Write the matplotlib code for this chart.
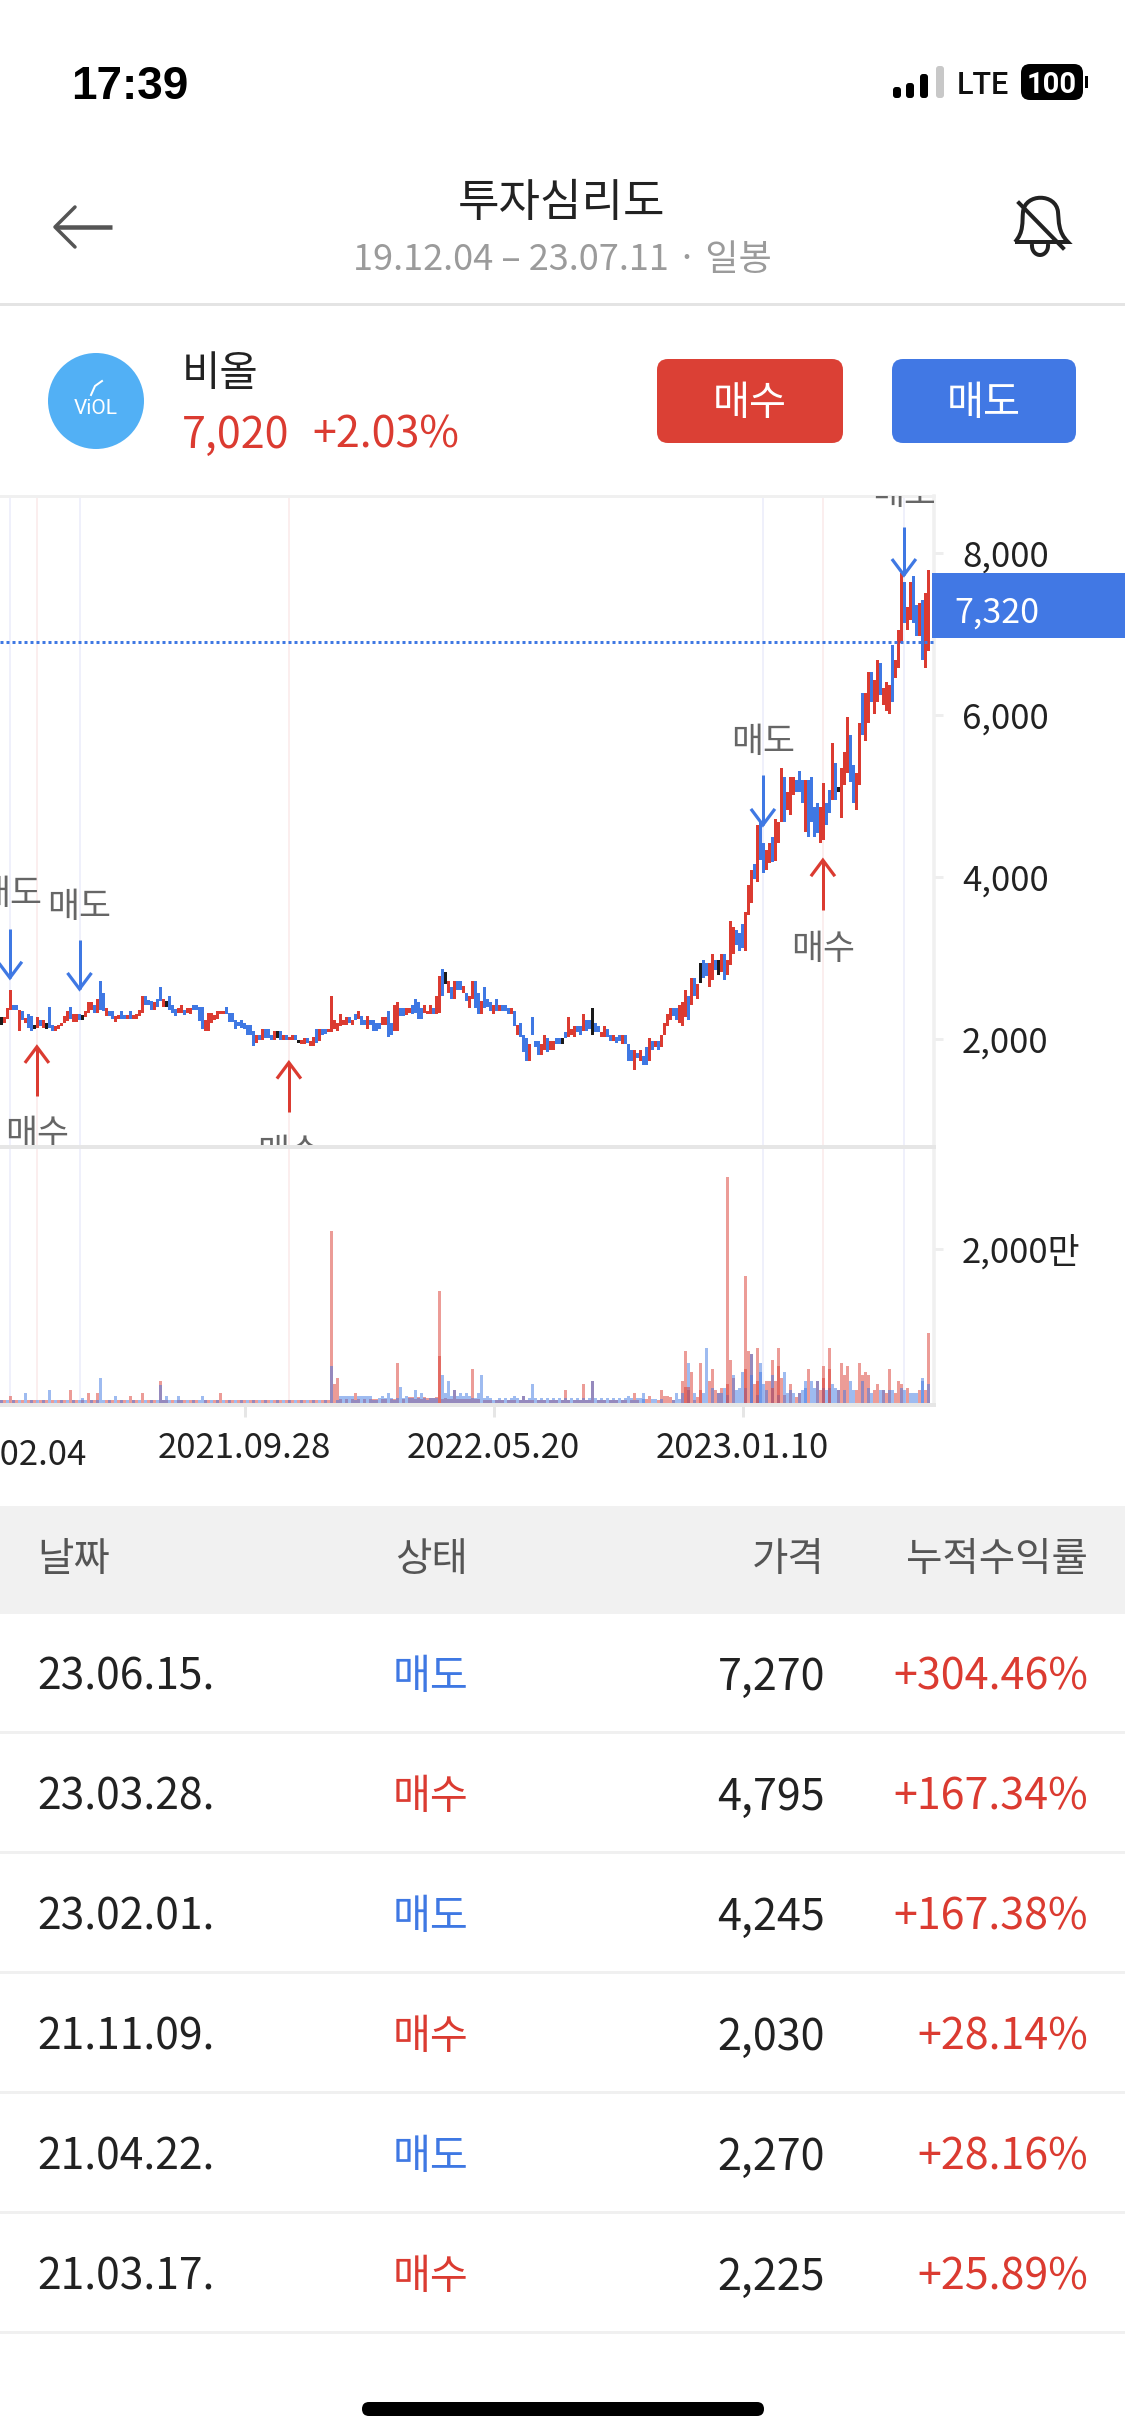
import numpy as np
import matplotlib
matplotlib.use("Agg")
import matplotlib.pyplot as plt
from matplotlib.patches import FancyBboxPatch, Circle, PathPatch, Rectangle
from matplotlib.path import Path

plt.rcParams['font.family'] = ['Noto Sans CJK KR', 'DejaVu Sans']

RED = '#DB3B31'; BLUE = '#3F78E3'; BLACK = '#1a1a1a'

high = [
2267,2267,2379,2605,2420,2420,2358,2337,2255,2309, 2276,2165,2267,2235,2235,2193,2387,2165,2152,2165,
2193,2276,2346,2387,2305,2305,2305,2296,2337,2453, 2453,2412,2494,2716,2564,2379,2346,2346,2276,2296,
2346,2296,2296,2346,2296,2309,2358,2531,2531,2481, 2461,2453,2494,2638,2490,2461,2531,2420,2366,2379,
2420,2358,2379,2379,2420,2420,2387,2387,2235,2317, 2317,2296,2346,2346,2346,2387,2317,2317,2235,2206,
2235,2193,2165,2165,2090,2049,2049,2123,2123,2123, 2049,2090,2090,2090,2049,2049,2021,2049,2049,1988,
1979,2008,2008,1975,2016,2123,2123,2123,2123,2123, 2531,2235,2193,2309,2235,2267,2267,2235,2309,2346,
2276,2235,2276,2235,2235,2193,2193,2267,2267,2346, 2193,2420,2453,2379,2379,2379,2379,2420,2494,2453,
2379,2420,2346,2420,2379,2531,2770,2864,2827,2716, 2638,2716,2716,2716,2646,2564,2531,2716,2716,2564,
2461,2638,2494,2453,2420,2494,2420,2420,2420,2379, 2379,2346,2165,2193,2049,2008,1938,2267,1975,1975,
1938,2049,2008,1975,1975,2008,2008,2008,2086,2267, 2123,2160,2160,2160,2309,2235,2235,2379,2193,2160,
2086,2160,2123,2049,2049,2016,2049,2049,2049,1938, 1864,1864,1823,1864,1790,1897,2008,1975,1975,1975,
2049,2193,2305,2379,2379,2379,2420,2453,2605,2531, 2749,2749,2679,2934,2973,2932,2932,3043,2973,2973,
3043,3043,2973,3454,3376,3343,3302,3418,3566,3899, 4084,4158,4640,4681,4413,4331,4413,4487,4710,4681,
5339,5237,5051,5237,5237,5195,5307,5195,5195,5195, 5237,4866,4907,4866,5154,4907,5072,5648,5401,5113,
5340,5545,5969,5751,5381,5278,5895,6265,6265,6532, 6532,6430,6676,6635,6327,6409,6368,6862,6676,7047,
7746,7644,7335,7644,7713,7355,7376,7417,7500,7788]
low = [
2165,2193,2243,2358,2350,2350,2090,2235,2193,2132, 2090,2123,2132,2152,2132,2123,2132,2090,2090,2119,
2152,2193,2214,2243,2206,2206,2235,2235,2267,2317, 2358,2317,2317,2358,2337,2276,2276,2243,2202,2243,
2243,2243,2243,2243,2243,2243,2276,2317,2420,2420, 2358,2358,2387,2461,2391,2391,2358,2317,2276,2317,
2317,2296,2317,2309,2358,2358,2214,2123,2090,2090, 2193,2235,2243,2309,2309,2309,2202,2202,2123,2160,
2132,2123,2049,2049,1905,1947,1979,1979,2008,2008, 1979,1979,2008,1988,1979,1979,1979,1979,1979,1947,
1938,1938,1947,1905,1905,1947,1975,2049,2062,2086, 2086,2123,2090,2160,2165,2165,2193,2165,2235,2243,
2165,2165,2123,2165,2090,2090,2123,2165,2165,2016, 2049,2090,2090,2276,2276,2296,2317,2309,2317,2243,
2243,2317,2309,2309,2309,2309,2317,2531,2679,2564, 2494,2494,2605,2605,2564,2461,2379,2494,2379,2309,
2309,2379,2387,2346,2309,2346,2346,2346,2346,2309, 2309,2160,2049,2016,1831,1720,1720,2049,1897,1794,
1794,1864,1831,1864,1864,1938,1938,1938,2008,2016, 2049,2016,2086,2049,2090,2090,2123,2049,2086,2086,
2016,2016,2016,1975,1975,1947,1975,1938,1938,1720, 1720,1617,1761,1720,1679,1679,1720,1864,1897,1864,
1897,2049,2160,2235,2276,2235,2193,2160,2267,2235, 2420,2531,2494,2687,2747,2775,2644,2726,2850,2788,
2829,2726,2788,2911,3043,3158,3084,3117,3084,3529, 3673,3969,3940,4208,4051,4084,4166,4187,4195,4413,
4681,4681,4825,4763,5010,5051,5051,4907,4558,4496, 4681,4496,4537,4414,4455,4640,4784,4949,4949,5051,
4722,5134,5278,5175,4907,4825,5134,5751,5677,5895, 6162,6010,6162,6244,6121,6051,6010,6162,6450,6574,
6882,7129,7047,7170,7129,6973,6973,6676,6574,6792]
direction = list(
"krrrbbrbrb" "bkrbrkbbrr" "rrrbrrbkrr" "rbrbbrbbrr" "bbrbrrrrbb" "brbbrkbbbr" "rbrrbbbbrr" "rrrrrbbbbb"
"bbbbbrbrbb" "brkbrbrrbk" "rrbrrbrbbr" "rrrrrrbrbr" "bbrbbbbrrb" "brrbbrrbbb" "brrrbrrbkr" "brbbrbrrbb"
"rbbbrbrbbb" "rbrbbbrbbb" "rrbrrbbkbr" "rrbbrbbkbb" "rrbbrbbrbb" "brbrbbrbrb" "rrrrbbrrrb" "rbrkbbrrbk"
"rbrrrbbbrr" "rbrbbrrbrr" "rbrrrbbbrb" "bbbrrbbrbk" "rrrbbrrbrr" "brrbrrrbrr" "rbrrbbrbrr")

vol_r = [
40,40,0,87,40,40,0,40,0,40, 40,40,0,40,40,40,0,40,0,40, 40,40,0,170,40,40,0,40,0,130, 40,40,130,0,0,40,40,40,0,40,
40,40,0,85,40,40,0,130,0,40, 40,40,0,280,40,40,0,40,0,40, 40,40,0,40,40,40,0,0,40,40, 0,40,40,130,0,40,40,40,0,40,
40,40,0,40,40,40,0,40,40,40, 0,40,40,40,0,40,40,40,0,40, 40,40,0,40,40,40,0,40,40,40,
2230,250,325,50,0,50,0,50,130,50, 0,50,0,50,50,50,0,50,50,0, 50,50,520,0,50,0,80,80,50,80,
50,80,70,60,60,80,1450,50,60,50, 50,173,50,50,50,50,50,446,50,50, 0,40,40,40,0,40,40,40,0,40,
40,40,0,40,87,40,40,40,0,40, 40,40,0,40,40,40,0,40,173,40, 0,40,40,40,247,40,40,281,0,40,
40,40,0,40,40,40,0,40,40,0, 40,130,40,0,0,47,90,0,0,40, 169,90,90,80,45,0,0,281,671,170,
398,40,80,515,0,0,281,437,165,125, 200,0,2930,554,320,0,0,0,1645,671, 632,242,710,0,0,281,281,554,281,710,
320,100,0,242,0,80,125,0,0,437, 0,0,281,165,476,0,710,0,0,165, 515,359,476,0,0,165,515,359,398,359,
0,165,242,0,164,125,437,0,125,281, 242,0,200,0,0,0,165,0,165,905]
vol_b = [
40,0,40,0,40,0,40,0,130,0, 40,0,40,0,40,0,170,0,40,0, 40,0,40,0,40,0,40,70,40,0, 40,0,40,325,40,0,40,0,85,0,
40,0,40,0,40,0,40,0,40,0, 40,0,40,240,40,95,40,0,40,90, 40,0,40,0,40,0,40,95,40,0, 40,0,40,0,40,0,40,0,40,0,
40,0,40,0,40,0,40,0,40,0, 40,0,40,0,40,0,40,0,40,0, 40,0,40,0,40,0,40,0,40,0,
485,0,40,95,95,95,95,95,40,95, 95,95,95,95,40,40,60,95,60,130, 60,40,60,210,60,95,60,60,165,60,
130,60,40,60,60,60,0,359,130,281, 95,173,95,130,95,130,95,60,60,130, 359,60,95,60,40,40,60,40,60,40,
60,95,60,40,87,40,60,247,60,40, 60,40,60,40,60,40,60,40,60,40, 60,40,60,40,60,40,60,281,60,40,
60,40,60,40,60,40,60,40,60,95, 60,40,60,60,125,0,0,47,47,0, 50,0,0,0,45,125,50,125,0,515,
0,125,0,0,125,710,0,200,0,125, 125,200,100,0,359,164,200,398,200,0, 632,0,100,515,242,165,0,359,0,100,
0,398,125,165,125,0,125,164,281,0, 281,200,281,0,200,164,200,242,200,165, 0,165,0,281,164,0,0,281,0,200,
125,0,0,165,164,0,165,164,0,0, 200,165,0,125,125,125,0,320,0,242]
red2_idx = [146,228,229,233,242,248,252,257,259,274,276]
red2_val = [606,203,203,170,242,437,281,200,476,320,437]
blue2_idx = [214,250,253,268,307]
blue2_val = [47,360,400,200,280]

price_ticks = [2000,4000,6000,8000]
price_labels = ['2,000','4,000','6,000','8,000']
vol_ticks = [2000]
vol_labels = ['2,000만']
last_level = 6900
date_pos = [81.5,164.5,247.5]
date_labels = ['2021.09.28','2022.05.20','2023.01.10']
clipped_date_pos = 0
clipped_date = '2021.02.04'

# signal: position, kind, tip price, tail price, label price
sig_pos  = [3.3,12.3,26.5,96.3,254.3,274.3,301.3]
sig_kind = ['s','b','s','b','s','b','s']
sig_tip  = [2753,1900,2615,1706,4640,4205,7725]
sig_tail = [3359,1292,3220,1100,5257,3590,8322]
sig_text = [3781,818,3621,585,5658,3100,8725]

row_date = ['23.06.15.','23.03.28.','23.02.01.','21.11.09.','21.04.22.','21.03.17.']
row_kind = ['매도','매수','매도','매수','매도','매수']
row_price = ['7,270','4,795','4,245','2,030','2,270','2,225']
row_ret = ['+304.46%','+167.34%','+167.38%','+28.14%','+28.16%','+25.89%']

W, H = 1125, 2436
fig = plt.figure(figsize=(W/100, H/100), dpi=100, facecolor='white')
def axpx(x0, y0, x1, y1, **k):
    return fig.add_axes([x0/W, 1-y1/H, (x1-x0)/W, (y1-y0)/H], **k)
px = 0.72  # points per pixel

XMAX = 934/3
ap = axpx(0, 496, 934, 1147)
av = axpx(0, 1147, 934, 1405)

colmap = {'r': RED, 'b': BLUE, 'k': BLACK}
xs = np.arange(len(high)) + 0.5
for a in (ap, av):
    a.set_xlim(0, XMAX)
    for s, k in zip(sig_pos, sig_kind):
        a.axvline(s, color='#eff0fb' if k == 's' else '#fbeeee', lw=2*px, zorder=1)
    a.spines['left'].set_visible(False)
    a.spines['right'].set_color('#f0f0f0'); a.spines['right'].set_linewidth(3.5*px)
    a.yaxis.tick_right()
    a.tick_params(axis='y', length=9*px, width=3*px, color='#eeeeee', pad=19*px,
                  labelsize=25, labelcolor='#222222')
ap.spines['top'].set_color('#f0f0f0'); ap.spines['top'].set_linewidth(3*px)
for sp in (ap.spines['bottom'], av.spines['top'], av.spines['bottom']):
    sp.set_color('#e6e6e6'); sp.set_linewidth(4*px)

ap.set_ylim(664, 8701)
ap.set_yticks(price_ticks, price_labels)
ap.set_xticks([])
ap.bar(xs, np.array(high)-np.array(low), bottom=low, width=1.2,
       color=[colmap[d] for d in direction], zorder=3, linewidth=0)
ap.axhline(last_level, color=BLUE, lw=3*px, linestyle=(0, (1, 1)), dash_capstyle='butt', zorder=4)

for s, k, tip, tail, t in zip(sig_pos, sig_kind, sig_tip, sig_tail, sig_text):
    c = BLUE if k == 's' else RED
    sgn = 1 if k == 's' else -1
    ap.plot([s, s], [tail, tip], color=c, lw=3*px, zorder=6, solid_capstyle='butt')
    ap.plot([s-4, s, s+4], [tip+sgn*198, tip, tip+sgn*198], color=c, lw=3.2*px, zorder=6,
            solid_joinstyle='miter', solid_capstyle='butt')
    ap.text(s, t, '매도' if k == 's' else '매수', ha='center', va='center', fontsize=25,
            color='#666666', clip_on=True, zorder=7)

av.set_ylim(-26, 3325)
av.set_yticks(vol_ticks, vol_labels)
av.bar(xs, vol_r, width=1.0, color=RED, alpha=0.5, linewidth=0, zorder=3)
av.bar(xs, vol_b, width=1.0, color=BLUE, alpha=0.5, linewidth=0, zorder=3)
av.bar(np.array(red2_idx)+0.5, red2_val, width=1.0, color=RED, alpha=0.5, linewidth=0, zorder=3)
av.bar(np.array(blue2_idx)+0.5, blue2_val, width=1.0, color=BLUE, alpha=0.5, linewidth=0, zorder=3)
av.set_xticks(date_pos, date_labels)
av.tick_params(axis='x', length=12*px, width=3*px, color='#e6e6e6', pad=14*px,
               labelsize=25, labelcolor='#222222')
lab = av.text(clipped_date_pos, -0.127, clipped_date, transform=av.get_xaxis_transform(), ha='center', va='top',
        fontsize=25, color='#222222', clip_on=False)

# screen furniture, in pixel coordinates
o = fig.add_axes([0, 0, 1, 1], zorder=10)
o.set_xlim(0, W); o.set_ylim(H, 0); o.axis('off'); o.patch.set_alpha(0)
def rrect(x0, y0, x1, y1, r, c):
    o.add_patch(FancyBboxPatch((x0+r, y0+r), x1-x0-2*r, y1-y0-2*r,
                boxstyle=f'round,pad={r},rounding_size={r}', fc=c, ec='none'))
def T(x, y, s, size, color, ha='left', **k):
    o.text(x, y, s, fontsize=size, color=color, ha=ha, va='center_baseline', **k)

T(71, 82, '17:39', 33, '#000000', family='Liberation Sans', weight='bold')
for x0, top, c in zip([893,906,920,936], [87,83,74,66], ['#000']*3+['#c8c8c8']):
    rrect(x0, top, x0+8, 98, 3, c)
T(957, 83, 'LTE', 22, '#111111', family='Roboto', weight='medium')
rrect(1021, 64, 1083, 100, 9, '#000000')
o.add_patch(Rectangle((1085, 76), 3, 12, fc='#000', ec='none'))
T(1052, 82, '100', 21, 'white', ha='center', family='Roboto', weight='bold')

o.plot([75, 55, 75], [207, 227, 247], color='#555555', lw=3.5*px, solid_joinstyle='round', solid_capstyle='round')
o.plot([56, 112], [227, 227], color='#555555', lw=4.5*px, solid_capstyle='butt')
T(562, 198, '투자심리도', 32.5, '#222222', ha='center')
T(562, 256, '19.12.04 – 23.07.11 · 일봉', 26, '#9b9b9b', ha='center')

bell = Path([(1015,242),(1024,232),(1022,222),(1023,212),(1025,193),(1056,193),(1058,212),
             (1059,222),(1058,232),(1068,242),(1015,242)],
            [Path.MOVETO,Path.CURVE4,Path.CURVE4,Path.CURVE4,Path.CURVE4,Path.CURVE4,Path.CURVE4,
             Path.CURVE4,Path.CURVE4,Path.CURVE4,Path.LINETO])
o.add_patch(PathPatch(bell, fc='none', ec='#222222', lw=4*px))
o.plot([1019,1063], [203,248], color='#222222', lw=4*px)
th = np.linspace(0, np.pi, 20)
o.plot(1040+8*np.cos(th), 246+9*np.sin(th), color='#222222', lw=4*px)

o.plot([0, W], [304, 304], color='#e4e4e4', lw=3*px)
o.add_patch(Circle((96, 401), 48, fc='#52B0F5', ec='none'))
T(96, 406, 'ViOL', 15, 'white', ha='center', family='Roboto')
o.plot([91,95,102],[395,386,381], color='white', lw=2*px)
T(182, 370, '비올', 30, '#222222')
T(182, 431, '7,020', 31, RED)
T(312, 431, '+2.03%', 31, RED)
rrect(657, 359, 843, 443, 11, '#DB4035')
rrect(892, 359, 1076, 443, 11, '#4178E4')
T(750, 399, '매수', 29, 'white', ha='center', weight='medium')
T(984, 399, '매도', 29, 'white', ha='center', weight='medium')

o.add_patch(Rectangle((932, 573), 193, 65, fc='#4178E4', ec='none'))
T(954, 609, '7,320', 24.5, 'white')

o.add_patch(Rectangle((0, 1506), W, 108, fc='#f1f1f1', ec='none'))
T(37, 1556, '날짜', 28.5, '#555555')
T(395, 1556, '상태', 28.5, '#555555')
T(825, 1556, '가격', 28.5, '#555555', ha='right')
T(1088, 1556, '누적수익률', 28.5, '#555555', ha='right')
ys = [1673, 1793, 1913, 2033, 2153, 2273]
seps = [1732, 1852, 1972, 2092, 2212, 2332]
for y, sp, d, k, p, r in zip(ys, seps, row_date, row_kind, row_price, row_ret):
    T(37, y, d, 30.6, '#222222')
    T(393, y, k, 29.7, BLUE if k == '매도' else RED)
    T(825, y, p, 31, '#222222', ha='right')
    T(1088, y, r, 31, RED, ha='right')
    o.plot([0, W], [sp, sp], color='#f0f0f0', lw=3*px)
rrect(362, 2402, 764, 2416, 7, '#000000')

fig.savefig('out.png', dpi=100, facecolor='white')
